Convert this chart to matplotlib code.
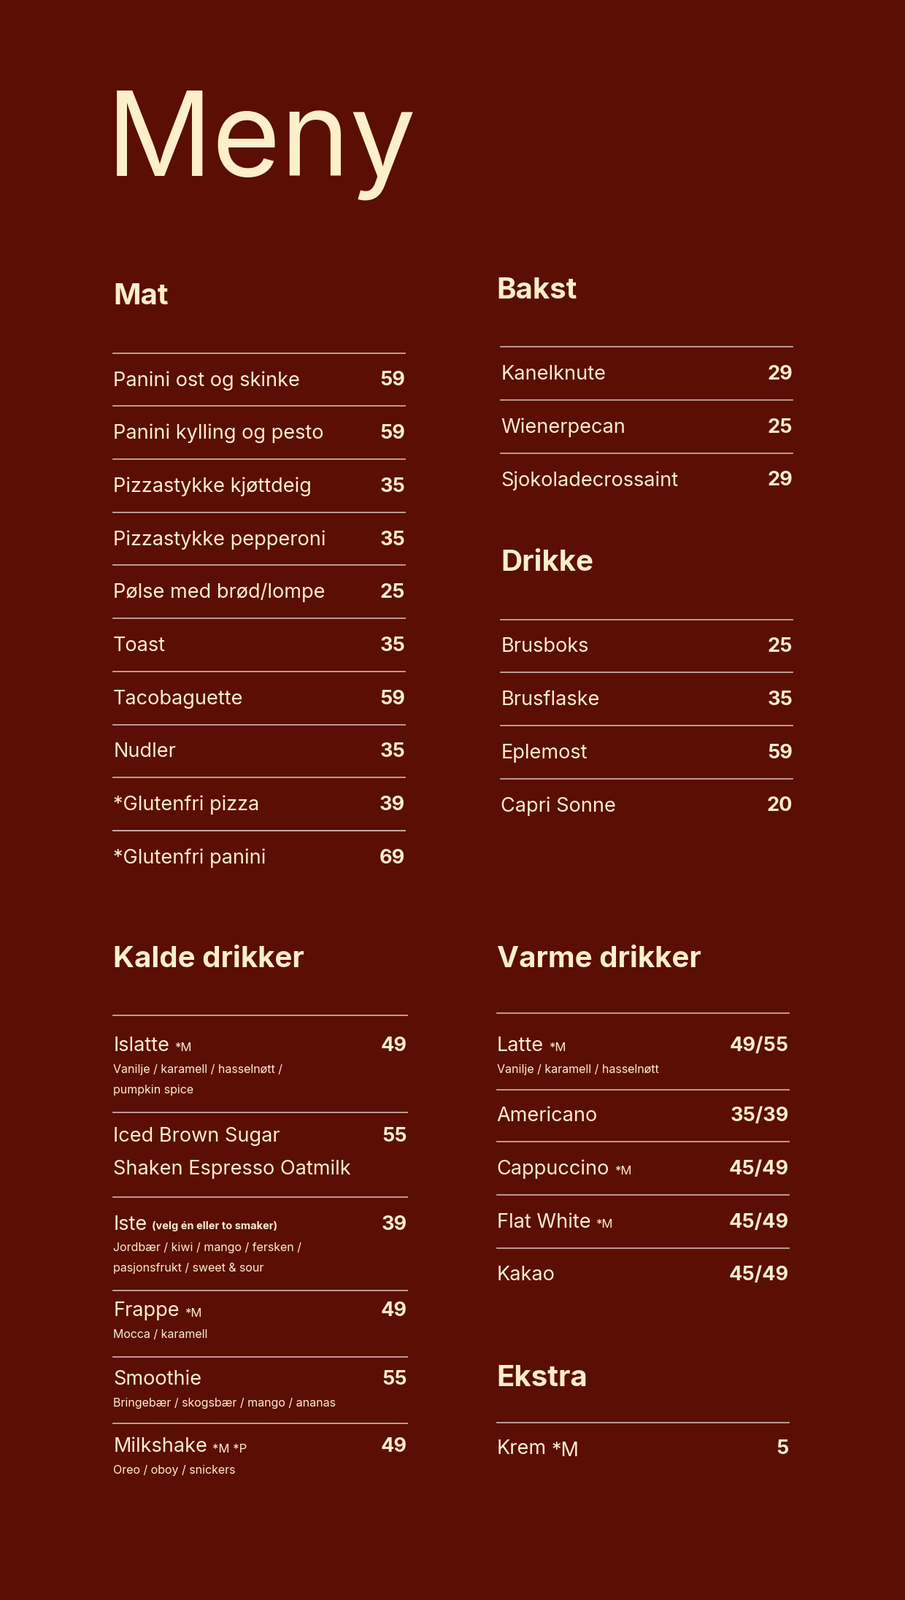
import matplotlib.pyplot as plt
from matplotlib.lines import Line2D

BG = "#5a0e04"
FG = "#fcefc9"
LINE = "#c9a9a0"
FONT = "Inter"

# --- menu data ---
mat_items = ["Panini ost og skinke", "Panini kylling og pesto", "Pizzastykke kjøttdeig",
             "Pizzastykke pepperoni", "Pølse med brød/lompe", "Toast", "Tacobaguette",
             "Nudler", "*Glutenfri pizza", "*Glutenfri panini"]
mat_prices = ["59", "59", "35", "35", "25", "35", "59", "35", "39", "69"]

bakst_items = ["Kanelknute", "Wienerpecan", "Sjokoladecrossaint"]
bakst_prices = ["29", "25", "29"]

drikke_items = ["Brusboks", "Brusflaske", "Eplemost", "Capri Sonne"]
drikke_prices = ["25", "35", "59", "20"]

kalde_items = ["Islatte", "Iced Brown Sugar\nShaken Espresso Oatmilk", "Iste", "Frappe",
               "Smoothie", "Milkshake"]
kalde_tags = ["*M", "", "(velg én eller to smaker)", "*M", "", "*M *P"]
kalde_subs = ["Vanilje / karamell / hasselnøtt /\npumpkin spice", "",
              "Jordbær / kiwi / mango / fersken /\npasjonsfrukt / sweet & sour",
              "Mocca / karamell", "Bringebær / skogsbær / mango / ananas",
              "Oreo / oboy / snickers"]
kalde_prices = ["49", "55", "39", "49", "55", "49"]

varme_items = ["Latte", "Americano", "Cappuccino", "Flat White", "Kakao"]
varme_tags = ["*M", "", "*M", "*M", ""]
varme_subs = ["Vanilje / karamell / hasselnøtt", "", "", "", ""]
varme_prices = ["49/55", "35/39", "45/49", "45/49", "45/49"]

ekstra_items = ["Krem"]
ekstra_tags = ["*M"]
ekstra_prices = ["5"]

W, H = 887, 1568
fig = plt.figure(figsize=(12.4, 21.92), dpi=100, facecolor=BG)
ax = fig.add_axes([0, 0, 1, 1])
ax.set_xlim(0, W)
ax.set_ylim(H, 0)
ax.axis("off")
ax.set_facecolor(BG)
renderer = fig.canvas.get_renderer()

ITEM = 19.5
SUB = 11.5
TAG = 12
HEAD = 29


def hline(x0, x1, y):
    ax.add_line(Line2D([x0, x1], [y, y], color=LINE, lw=1.3))


def heading(x, y, s):
    ax.text(x, y, s, color=FG, fontsize=HEAD, fontweight="bold", family=FONT, va="center")


def name_with_tag(x, y, name, tag, tsize=TAG, bold_tag=False):
    t = ax.text(x, y, name, color=FG, fontsize=ITEM, family=FONT, va="center")
    if tag:
        bb = t.get_window_extent(renderer)
        inv = ax.transData.inverted()
        xe = inv.transform((bb.x1, bb.y0))[0]
        ax.text(xe + 5, y + 2, tag, color=FG, fontsize=tsize, family=FONT, va="center",
                fontweight="bold" if bold_tag else "normal")


def simple_section(x0, x1, top, names, prices, step=52, tags=None):
    hline(x0, x1, top)
    for i, (n, p) in enumerate(zip(names, prices)):
        y = top + 27 + i * step
        name_with_tag(x0, y, n, tags[i] if tags else "")
        ax.text(x1, y, p, color=FG, fontsize=ITEM, fontweight="bold", family=FONT,
                ha="right", va="center")
        if i < len(names) - 1:
            hline(x0, x1, top + (i + 1) * step)


ax.text(104, 142, "Meny", color=FG, fontsize=116, family=FONT, va="center")

heading(111, 291, "Mat")
simple_section(111, 397, 346, mat_items, mat_prices)
hline(111, 397, 346 + 9 * 52)

heading(487, 285, "Bakst")
simple_section(491, 777, 340, bakst_items, bakst_prices)
heading(491, 552, "Drikke")
simple_section(491, 777, 607, drikke_items, drikke_prices)

# Kalde drikker
heading(111, 940, "Kalde drikker")
kalde_y = [1025, 1114, 1200, 1285, 1352, 1418]
kalde_lines = [995, 1090, 1173, 1265, 1330, 1395]
for i, n in enumerate(kalde_items):
    hline(111, 399, kalde_lines[i])
    y = kalde_y[i]
    if "\n" in n:
        for j, part in enumerate(n.split("\n")):
            ax.text(111, y + j * 32, part, color=FG, fontsize=ITEM, family=FONT, va="center")
    else:
        name_with_tag(111, y, n, kalde_tags[i], tsize=TAG if kalde_tags[i].startswith("*") else 10.5,
                      bold_tag=not kalde_tags[i].startswith("*"))
    ax.text(399, y, kalde_prices[i], color=FG, fontsize=ITEM, fontweight="bold",
            family=FONT, ha="right", va="center")
    if kalde_subs[i]:
        for j, part in enumerate(kalde_subs[i].split("\n")):
            ax.text(111, y + 23 + j * 20, part, color=FG, fontsize=SUB, family=FONT, va="center")

# Varme drikker
heading(487, 940, "Varme drikker")
varme_y = [1025, 1094, 1146, 1198, 1250]
varme_lines = [993, 1068, 1119, 1171, 1223]
for i, n in enumerate(varme_items):
    hline(487, 773, varme_lines[i])
    y = varme_y[i]
    name_with_tag(487, y, n, varme_tags[i])
    ax.text(773, y, varme_prices[i], color=FG, fontsize=ITEM, fontweight="bold",
            family=FONT, ha="right", va="center")
    if varme_subs[i]:
        ax.text(487, y + 23, varme_subs[i], color=FG, fontsize=SUB, family=FONT, va="center")

heading(487, 1351, "Ekstra")
hline(487, 773, 1394)
name_with_tag(487, 1420, ekstra_items[0], ekstra_tags[0], tsize=ITEM)
ax.text(773, 1420, ekstra_prices[0], color=FG, fontsize=ITEM, fontweight="bold",
        family=FONT, ha="right", va="center")

fig.savefig("out.png", dpi=100, facecolor=BG)
